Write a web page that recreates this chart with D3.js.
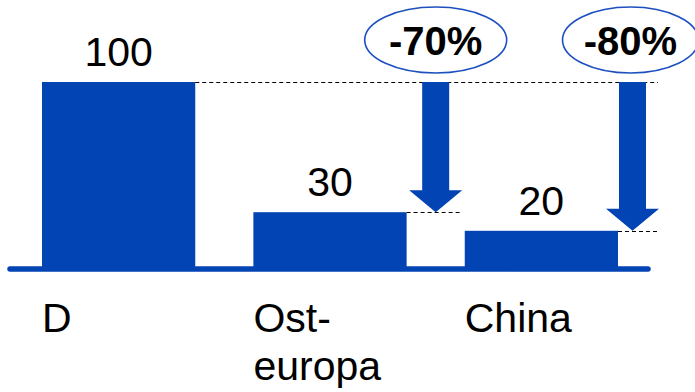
<!DOCTYPE html>
<html>
<head>
<meta charset="utf-8">
<script src="https://cdn.jsdelivr.net/npm/d3@7"></script>
<style>
  html, body { margin: 0; padding: 0; background: #fff; }
  svg { display: block; font-family: "Liberation Sans", Arial, sans-serif; }
</style>
</head>
<body>
<svg id="chart" width="695" height="392"></svg>
<script>
// ---- data ----
const categories = ["D", "Ost-europa", "China"];
const categoryLines = [["D"], ["Ost-", "europa"], ["China"]];
const values = [100, 30, 20];
const changeLabels = ["-70%", "-80%"];
const changeTargets = ["Ost-europa", "China"];

// ---- layout ----
const W = 695, H = 392;
const blue = "#0344B5";
const svg = d3.select("#chart");

const x = d3.scaleBand().domain(categories).range([42, 618]).paddingInner(0.275).paddingOuter(0);
const y = d3.scaleLinear().domain([0, 100]).range([268, 82]);
const bw = x.bandwidth();

// bars
svg.selectAll("rect.bar").data(values).join("rect")
  .attr("class", "bar")
  .attr("x", (d, i) => x(categories[i]))
  .attr("y", d => y(d))
  .attr("width", bw)
  .attr("height", d => y(0) - y(d))
  .attr("fill", blue);

// baseline
svg.append("line")
  .attr("x1", 10).attr("x2", 648)
  .attr("y1", y(0) + 1).attr("y2", y(0) + 1)
  .attr("stroke", blue).attr("stroke-width", 5.5).attr("stroke-linecap", "round");

// value labels
svg.selectAll("text.val").data(values).join("text")
  .attr("class", "val")
  .attr("x", (d, i) => x(categories[i]) + bw / 2)
  .attr("y", d => y(d) - 16)
  .attr("text-anchor", "middle")
  .attr("font-size", 41)
  .attr("fill", "#000")
  .text(d => d);

// category labels
categoryLines.forEach((lines, i) => {
  const t = svg.append("text")
    .attr("x", x(categories[i]))
    .attr("y", 332)
    .attr("font-size", 41)
    .attr("fill", "#000");
  lines.forEach((ln, j) => {
    t.append("tspan").attr("x", x(categories[i])).attr("dy", j === 0 ? 0 : 48).text(ln);
  });
});

// arrow x positions
const arrowX = [
  (x("Ost-europa") + bw + x("China")) / 2,
  x("China") + bw + 14.5
];
const dashEnd = [462, 658];

// dashed reference lines
const dash = "4,3";
const crisp = v => Math.round(v) + 0.5;
svg.append("line")
  .attr("x1", x("D") + bw).attr("x2", 658)
  .attr("y1", crisp(y(values[0]))).attr("y2", crisp(y(values[0])))
  .attr("stroke", "#000").attr("stroke-width", 1).attr("stroke-dasharray", dash);
changeTargets.forEach((c, k) => {
  const v = values[categories.indexOf(c)];
  svg.append("line")
    .attr("x1", x(c) + bw).attr("x2", dashEnd[k])
    .attr("y1", crisp(y(v))).attr("y2", crisp(y(v)))
    .attr("stroke", "#000").attr("stroke-width", 1).attr("stroke-dasharray", dash);
});

// arrows
changeTargets.forEach((c, k) => {
  const v = values[categories.indexOf(c)];
  const cx = arrowX[k];
  const top = y(values[0]);
  const tip = y(v);
  const headH = 22, headW = 26.5, shaftW = 13.5;
  const p = d3.path();
  p.moveTo(cx - shaftW, top);
  p.lineTo(cx + shaftW, top);
  p.lineTo(cx + shaftW, tip - headH);
  p.lineTo(cx + headW, tip - headH);
  p.lineTo(cx, tip);
  p.lineTo(cx - headW, tip - headH);
  p.lineTo(cx - shaftW, tip - headH);
  p.closePath();
  svg.append("path").attr("d", p.toString()).attr("fill", blue);
});

// ellipses with change labels
const ellipseCx = [arrowX[0], arrowX[1] - 2];
const ellipseRx = [71, 68];
changeLabels.forEach((lab, k) => {
  svg.append("ellipse")
    .attr("cx", ellipseCx[k]).attr("cy", 40)
    .attr("rx", ellipseRx[k]).attr("ry", 33)
    .attr("fill", "none").attr("stroke", "#1C4FC0").attr("stroke-width", 1.6);
  svg.append("text")
    .attr("x", ellipseCx[k]).attr("y", 55)
    .attr("text-anchor", "middle")
    .attr("font-size", 40).attr("font-weight", "bold")
    .attr("fill", "#000")
    .text(lab);
});
</script>
</body>
</html>
